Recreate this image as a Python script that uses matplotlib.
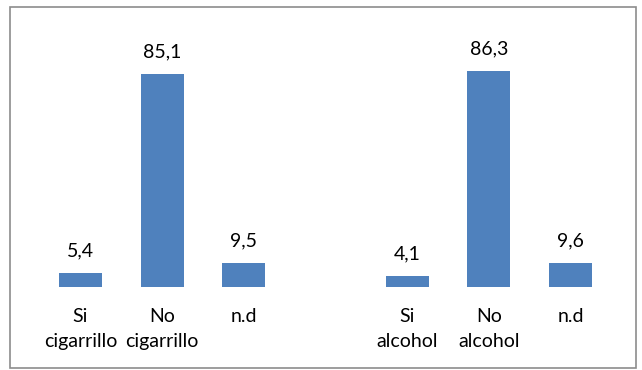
import matplotlib
matplotlib.use("Agg")
import matplotlib.pyplot as plt
from matplotlib.patches import Rectangle

plt.rcParams['font.family'] = ['Lato', 'DejaVu Sans']

categories = ["Si\ncigarrillo", "No\ncigarrillo", "n.d", "", "Si\nalcohol", "No\nalcohol", "n.d"]
values = [5.4, 85.1, 9.5, None, 4.1, 86.3, 9.6]
value_labels = ["5,4", "85,1", "9,5", "", "4,1", "86,3", "9,6"]

W, H = 642, 370
fig = plt.figure(figsize=(W / 100, H / 100), dpi=100)

# outer chart border
fig.patches.append(Rectangle((10 / W, 2 / H), 626 / W, 361 / H, transform=fig.transFigure,
                             fill=False, edgecolor="#8c8c8c", linewidth=1.2))

left, right = 39.7, 611.3
base, top = 286.7, 37.1
ax = fig.add_axes([left / W, 1 - base / H, (right - left) / W, (base - top) / H])

xs = [i for i, v in enumerate(values) if v is not None]
vals = [v for v in values if v is not None]
ax.bar(xs, vals, width=0.527, color="#4F81BD")

for i, (v, lab) in enumerate(zip(values, value_labels)):
    if v is None:
        continue
    ax.annotate(lab, (i, v), xytext=(0, 16), textcoords="offset points",
                ha="center", va="center", fontsize=14, color="black")

ax.set_xlim(-0.5, len(categories) - 0.5)
ax.set_ylim(0, 100)
ax.set_xticks(range(len(categories)))
ax.set_xticklabels(categories, fontsize=14, linespacing=1.6, va="top")
ax.tick_params(axis="x", length=0, pad=15)
ax.set_yticks([])
for s in ax.spines.values():
    s.set_visible(False)

fig.savefig("out.png", dpi=100)
